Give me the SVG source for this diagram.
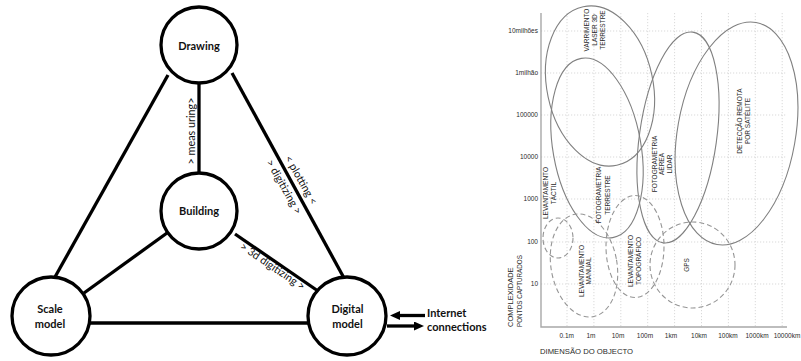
<svg xmlns="http://www.w3.org/2000/svg" width="801" height="361" viewBox="0 0 801 361">
<style>
.edge{stroke:#000;stroke-width:3.3;fill:none;stroke-linecap:butt}
.node{fill:#fff;stroke:#000;stroke-width:3.3}
.nt{font-family:Lato,"Liberation Sans",sans-serif;font-weight:bold;font-size:11px;fill:#111;text-anchor:middle}
.el{font-family:Lato,"Liberation Sans",sans-serif;font-size:10.8px;fill:#111;text-anchor:middle}
.grid{stroke:#cfcfcf;stroke-width:0.8;stroke-dasharray:1.2,1.8;fill:none}
.axis{stroke:#a8a8a8;stroke-width:1.4;fill:none}
.es{fill:none;stroke:#808080;stroke-width:1.1}
.ed{fill:none;stroke:#959595;stroke-width:1.1;stroke-dasharray:5,3}
.ct{font-family:"Liberation Sans",Arial,sans-serif;font-size:6.5px;fill:#2a2a2a}
.cl{font-family:"Liberation Sans",Arial,sans-serif;font-size:6.5px;fill:#2a2a2a;text-anchor:middle}
</style>
<defs>
<marker id="ah" markerWidth="10" markerHeight="9" refX="2" refY="4.5" orient="auto" markerUnits="userSpaceOnUse">
<path d="M0,0 L10,4.5 L0,9 z" fill="#000"/>
</marker>
</defs>

<g id="connectors">
<line class="edge" x1="168" y1="75" x2="55" y2="277"/>
<line class="edge" x1="232" y1="73" x2="344" y2="278"/>
<line class="edge" x1="199" y1="83" x2="199" y2="173"/>
<line class="edge" x1="167" y1="233" x2="84" y2="293"/>
<line class="edge" x1="235" y1="234" x2="318" y2="291"/>
<line class="edge" x1="90" y1="323" x2="308" y2="323"/>
<line class="edge" x1="425" y1="315.5" x2="398" y2="315.5" marker-end="url(#ah)"/>
<line class="edge" x1="387" y1="326" x2="416" y2="326" marker-end="url(#ah)"/>
<text class="el" transform="translate(195,131) rotate(-90)">&gt; meas uring&gt;</text>
<text class="el" transform="translate(301,180) rotate(60.6)" y="3.5">&lt; plotting &lt;</text>
<text class="el" transform="translate(284,187) rotate(60.6)" y="3.5">&gt; digitizing &gt;</text>
<text class="el" transform="translate(272.5,266.5) rotate(34)" y="3.5">&gt; 3d digitizing &gt;</text>
</g>

<g id="node-drawing">
<circle class="node" cx="199" cy="45" r="38"/>
<text class="nt" x="199" y="49.5">Drawing</text>
</g>
<g id="node-building">
<circle class="node" cx="199" cy="211" r="38"/>
<text class="nt" x="199" y="215">Building</text>
</g>
<g id="node-scale-model">
<circle class="node" cx="51" cy="316" r="39"/>
<text class="nt" x="50" y="313">Scale</text>
<text class="nt" x="50" y="327.5">model</text>
</g>
<g id="node-digital-model">
<circle class="node" cx="347" cy="316" r="39"/>
<text class="nt" x="347.5" y="313">Digital</text>
<text class="nt" x="347.5" y="327.5">model</text>
</g>
<g id="node-internet">
<text class="nt" style="text-anchor:start" x="427" y="317">Internet</text>
<text class="nt" style="text-anchor:start" x="427" y="331">connections</text>
</g>

<g id="chart">
<g class="grid">
<line x1="541" y1="31" x2="787" y2="31"/>
<line x1="541" y1="73" x2="787" y2="73"/>
<line x1="541" y1="115" x2="787" y2="115"/>
<line x1="541" y1="157" x2="787" y2="157"/>
<line x1="541" y1="199" x2="787" y2="199"/>
<line x1="541" y1="242" x2="787" y2="242"/>
<line x1="541" y1="284" x2="787" y2="284"/>
<line x1="567" y1="13" x2="567" y2="327"/>
<line x1="593.9" y1="13" x2="593.9" y2="327"/>
<line x1="620.8" y1="13" x2="620.8" y2="327"/>
<line x1="647.7" y1="13" x2="647.7" y2="327"/>
<line x1="674.6" y1="13" x2="674.6" y2="327"/>
<line x1="701.5" y1="13" x2="701.5" y2="327"/>
<line x1="728.4" y1="13" x2="728.4" y2="327"/>
<line x1="755.3" y1="13" x2="755.3" y2="327"/>
<line x1="782.2" y1="13" x2="782.2" y2="327"/>
</g>
<path class="axis" d="M541,13 V327 H787"/>

<g class="ct" text-anchor="end">
<text x="538" y="33.3">10milhões</text>
<text x="538" y="75.3">1milhão</text>
<text x="538" y="117.3">100000</text>
<text x="538" y="159.3">10000</text>
<text x="538" y="201.3">1000</text>
<text x="538" y="244.3">100</text>
<text x="538" y="286.3">10</text>
</g>
<g class="cl">
<text x="566.7" y="338.3">0.1m</text>
<text x="591" y="338.3">1m</text>
<text x="618" y="338.3">10m</text>
<text x="645" y="338.3">100m</text>
<text x="671" y="338.3">1km</text>
<text x="699" y="338.3">10km</text>
<text x="728" y="338.3">100km</text>
<text x="757" y="338.3">1000km</text>
<text x="787" y="338.3">10000km</text>
</g>
<text x="540" y="353.5" style="font-family:'Liberation Sans',Arial,sans-serif;font-size:7.7px;fill:#2a2a2a">DIMENSÃO DO OBJECTO</text>
<text transform="translate(513.4,327) rotate(-90)" style="font-family:'Liberation Sans',Arial,sans-serif;font-size:7.5px;fill:#2a2a2a">COMPLEXIDADE</text>
<text transform="translate(522.3,327) rotate(-90)" style="font-family:'Liberation Sans',Arial,sans-serif;font-size:6.3px;fill:#2a2a2a">PONTOS CAPTURADOS</text>

<ellipse class="es" cx="600" cy="86" rx="53" ry="81" transform="rotate(-12 600 86)"/>
<ellipse class="es" cx="597" cy="148" rx="44" ry="91" transform="rotate(-10 597 148)"/>
<ellipse class="es" cx="678" cy="137.5" rx="38.6" ry="106.4" transform="rotate(8 678 137.5)"/>
<ellipse class="es" cx="736.5" cy="133.5" rx="59" ry="112.7" transform="rotate(10 736.5 133.5)"/>
<ellipse class="ed" cx="558" cy="238" rx="15" ry="20"/>
<ellipse class="ed" cx="584" cy="265.5" rx="33" ry="52" transform="rotate(-10 584 265.5)"/>
<ellipse class="ed" cx="635" cy="246.5" rx="29" ry="51"/>
<ellipse class="ed" cx="692.5" cy="265" rx="42.5" ry="43"/>

<g class="cl">
<text transform="translate(589,30) rotate(-90)">VARRIMENTO</text>
<text transform="translate(597.3,30) rotate(-90)">LASER 3D</text>
<text transform="translate(605,30) rotate(-90)">TERRESTRE</text>
<text transform="translate(741.6,121) rotate(-90)">DETECÇÃO REMOTA</text>
<text transform="translate(750,121) rotate(-90)">POR SATÉLITE</text>
<text transform="translate(656.6,164) rotate(-90)">FOTOGRAMETRIA</text>
<text transform="translate(664,164) rotate(-90)">AÉREA</text>
<text transform="translate(671.6,164) rotate(-90)">LIDAR</text>
<text transform="translate(601.3,195) rotate(-90)">FOTOGRAMETRIA</text>
<text transform="translate(610,195) rotate(-90)">TERRESTRE</text>
<text transform="translate(548.3,193) rotate(-90)">LEVANTAMENTO</text>
<text transform="translate(555.6,193) rotate(-90)">TÁCTIL</text>
<text transform="translate(584,271) rotate(-90)">LEVANTAMENTO</text>
<text transform="translate(591.3,271) rotate(-90)">MANUAL</text>
<text transform="translate(633,261) rotate(-90)">LEVANTAMENTO</text>
<text transform="translate(641.3,261) rotate(-90)">TOPOGRÁFICO</text>
<text transform="translate(689,265) rotate(-90)">GPS</text>
</g>
</g>
</svg>
